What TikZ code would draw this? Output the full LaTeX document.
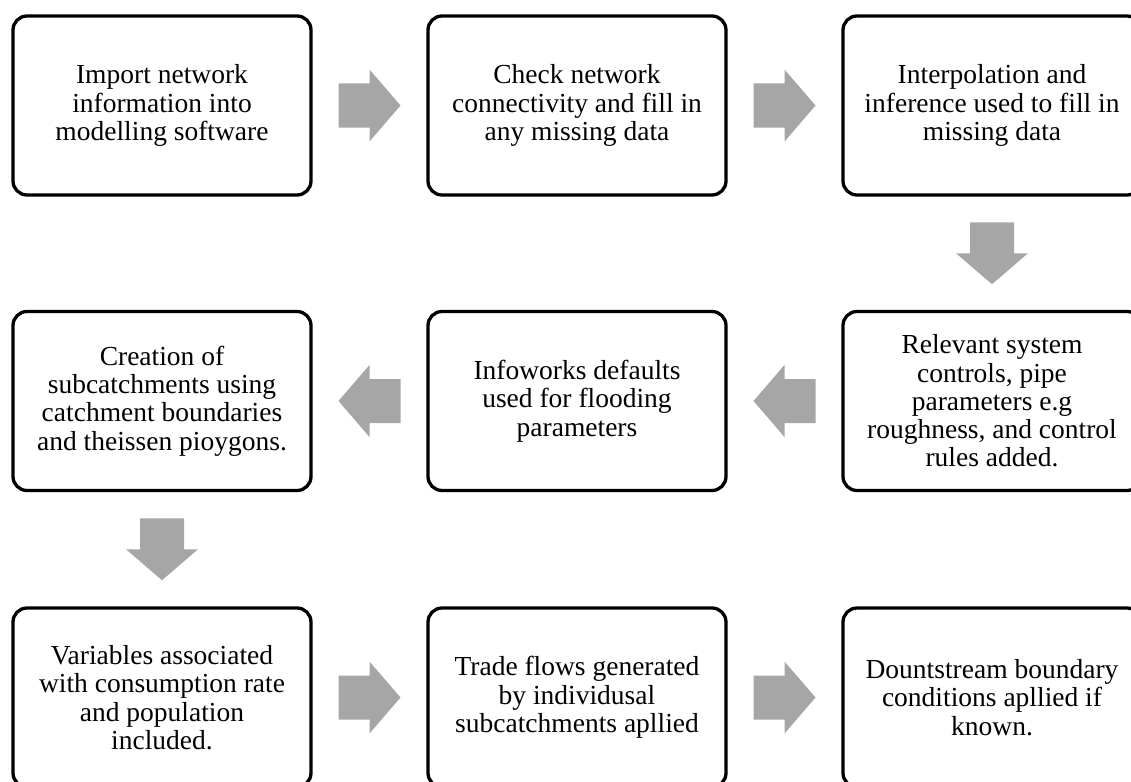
\documentclass[tikz,border=0pt]{standalone}
\usepackage{fontspec}
\setmainfont{Liberation Serif}
\usetikzlibrary{calc}
\definecolor{arrowgray}{RGB}{166,166,166}
\tikzset{
  stepbox/.style={draw=black, line width=3.3pt, rounded corners=14pt,
    minimum width=298pt, minimum height=179pt, align=center, inner sep=0pt,
    font=\fontsize{27.5}{28.3}\selectfont},
  blockarrow/.pic={
    \fill[arrowgray] (-31,-22) -- (0,-22) -- (0,-36) -- (31,0) -- (0,36)
      -- (0,22) -- (-31,22) -- cycle;
  }
}
\begin{document}
\begin{tikzpicture}[x=1pt, y=-1pt]
  \useasboundingbox (0,0) rectangle (1131,781);
  \clip (0,0) rectangle (1131,781);
  % first row, left to right
  \node[stepbox] (b1) at (162,105.5) {Import network\\information into\\modelling software};
  \node[stepbox] (b2) at (577,105.5) {Check network\\connectivity and fill in\\any missing data};
  \node[stepbox] (b3) at (992,105.5) {Interpolation and\\inference used to fill in\\missing data};
  % second row, right to left
  \node[stepbox] (b4) at (992,401) {Relevant system\\controls, pipe\\parameters e.g\\roughness, and control\\rules added.};
  \node[stepbox] (b5) at (577,401) {Infoworks defaults\\used for flooding\\parameters};
  \node[stepbox] (b6) at (162,401) {Creation of\\subcatchments using\\catchment boundaries\\and theissen pioygons.};
  % third row, left to right
  \node[stepbox] (b7) at (162,697.5) {Variables associated\\with consumption rate\\and population\\included.};
  \node[stepbox] (b8) at (577,697.5) {Trade flows generated\\by individusal\\subcatchments apllied};
  \node[stepbox] (b9) at (992,697.5) {Dountstream boundary\\conditions apllied if\\known.};
  % block arrows between the steps
  \pic at ($(b1.east)!0.5!(b2.west)$) {blockarrow};
  \pic at ($(b2.east)!0.5!(b3.west)$) {blockarrow};
  \pic[rotate=-90] at ($(b3.south)!0.5!(b4.north)$) {blockarrow};
  \pic[rotate=180] at ($(b4.west)!0.5!(b5.east)$) {blockarrow};
  \pic[rotate=180] at ($(b5.west)!0.5!(b6.east)$) {blockarrow};
  \pic[rotate=-90] at ($(b6.south)!0.5!(b7.north)$) {blockarrow};
  \pic at ($(b7.east)!0.5!(b8.west)$) {blockarrow};
  \pic at ($(b8.east)!0.5!(b9.west)$) {blockarrow};
\end{tikzpicture}
\end{document}
